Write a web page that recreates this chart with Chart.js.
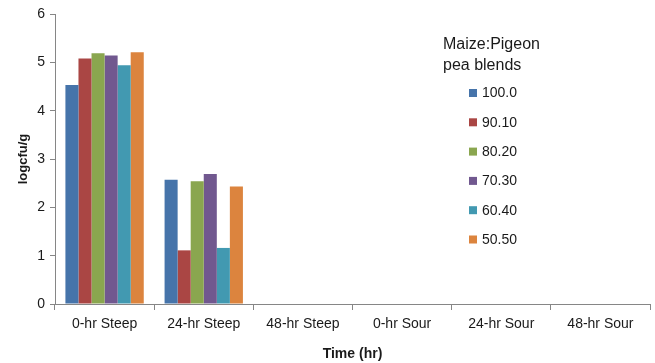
<!DOCTYPE html>
<html>
<head>
<meta charset="utf-8">
<script src="https://cdn.jsdelivr.net/npm/chart.js@4/dist/chart.umd.min.js"></script>
<style>
  html, body { margin: 0; padding: 0; background: #fff; }
  #wrap { width: 655px; height: 363px; position: relative; }
</style>
</head>
<body>
<div id="wrap"><canvas id="c" width="655" height="363"></canvas></div>
<script>
// Processing stages on the x axis
const stages = ['0-hr Steep', '24-hr Steep', '48-hr Steep', '0-hr Sour', '24-hr Sour', '48-hr Sour'];

// Maize:Pigeon pea blend ratios (series names)
const blends = ['100.0', '90.10', '80.20', '70.30', '60.40', '50.50'];

// Microbial counts (logcfu/g) per blend, one value per stage
const blend100 = [4.53, 2.57, null, null, null, null];
const blend90  = [5.08, 1.11, null, null, null, null];
const blend80  = [5.19, 2.54, null, null, null, null];
const blend70  = [5.14, 2.69, null, null, null, null];
const blend60  = [4.94, 1.16, null, null, null, null];
const blend50  = [5.21, 2.43, null, null, null, null];

const yTicks = [0, 1, 2, 3, 4, 5, 6];

const seriesValues = [blend100, blend90, blend80, blend70, blend60, blend50];
const seriesColors = ['#4674aa', '#aa4644', '#8aa64f', '#71588f', '#4299b1', '#dc843e'];

const FONT = "'Liberation Sans', Arial, sans-serif";
const AXIS = '#868686';

// Legend drawn inside the plot area, at the upper right
const blendLegend = {
  id: 'blendLegend',
  afterDraw(chart) {
    const ctx = chart.ctx;
    ctx.save();
    ctx.fillStyle = '#1a1a1a';
    ctx.textBaseline = 'middle';
    ctx.textAlign = 'left';
    ctx.font = '16px ' + FONT;
    ctx.fillText('Maize:Pigeon', 443, 45);
    ctx.fillText('pea blends', 443, 66);
    ctx.font = '14px ' + FONT;
    chart.data.datasets.forEach((ds, i) => {
      const y = 93 + i * 29.3;
      ctx.fillStyle = ds.backgroundColor;
      ctx.fillRect(469, y - 4, 8, 8);
      ctx.fillStyle = '#1a1a1a';
      ctx.fillText(ds.label, 482, y + 0.5);
    });
    ctx.restore();
  }
};

new Chart(document.getElementById('c'), {
  type: 'bar',
  data: {
    labels: stages,
    datasets: blends.map((name, i) => ({
      label: name,
      data: seriesValues[i],
      backgroundColor: seriesColors[i],
      borderWidth: 0,
      categoryPercentage: 0.79,
      barPercentage: 1.0
    }))
  },
  options: {
    responsive: false,
    animation: false,
    devicePixelRatio: 1,
    layout: { padding: { top: 14, right: 5, left: 0, bottom: 0 } },
    plugins: {
      legend: { display: false },
      tooltip: { enabled: false }
    },
    scales: {
      x: {
        grid: {
          display: true,
          drawOnChartArea: false,
          drawTicks: true,
          tickLength: 6,
          color: AXIS,
          offset: true
        },
        border: { display: true, color: AXIS, width: 1 },
        ticks: {
          color: '#1a1a1a',
          font: { family: FONT, size: 14 },
          padding: 6,
          maxRotation: 0,
          autoSkip: false
        },
        title: {
          display: true,
          text: 'Time (hr)',
          color: '#1a1a1a',
          font: { family: FONT, size: 14, weight: 'bold' },
          padding: { top: 3, bottom: 0 }
        },
        afterFit(scale) { scale.height = 59; }
      },
      y: {
        min: 0,
        max: 6,
        afterBuildTicks(scale) { scale.ticks = yTicks.map(v => ({ value: v })); },
        grid: {
          display: true,
          drawOnChartArea: false,
          drawTicks: true,
          tickLength: 5,
          color: AXIS
        },
        border: { display: true, color: AXIS, width: 1 },
        ticks: {
          color: '#1a1a1a',
          font: { family: FONT, size: 14 },
          padding: 5
        },
        title: {
          display: true,
          text: 'logcfu/g',
          color: '#1a1a1a',
          font: { family: FONT, size: 13, weight: 'bold' },
          padding: { top: 16, bottom: 0 }
        },
        afterFit(scale) { scale.width = 55; }
      }
    }
  },
  plugins: [blendLegend]
});
</script>
</body>
</html>
